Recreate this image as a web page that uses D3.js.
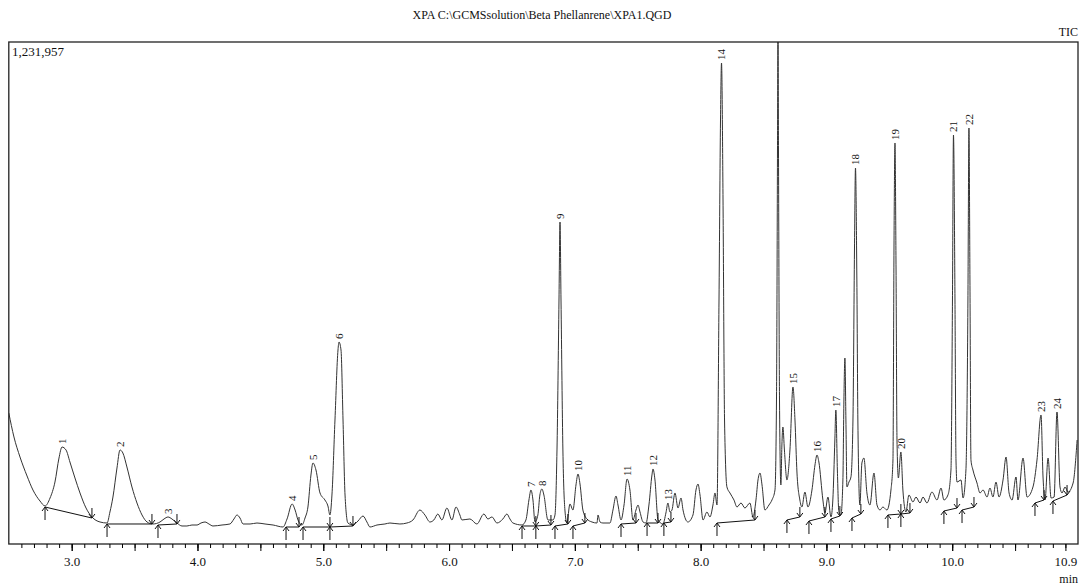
<!DOCTYPE html>
<head>
  <meta charset="utf-8">
  <script src="https://d3js.org/d3.v7.min.js"></script>
  <style>
    body { margin: 0; background: #fff; }
    text { font-family: "Liberation Serif", "DejaVu Serif", serif; fill: #111; }
  </style>
</head>
<body>

<div id="my_dataviz"></div>

<script>

  // TIC trace: [retention time (min), counts]
  var ticTrace = [
    [2.500, 321500], [2.541, 262600], [2.589, 213500], [2.645, 166900], [2.692, 132500],
    [2.748, 105500], [2.788, 93300], [2.828, 112900], [2.867, 152100], [2.899, 211000],
    [2.923, 238000], [2.955, 230700], [2.986, 201200], [3.026, 162000], [3.066, 125200],
    [3.114, 88300], [3.161, 66300], [3.225, 54000], [3.281, 51500], [3.304, 78500],
    [3.328, 115300], [3.360, 186500], [3.384, 230700], [3.407, 223300], [3.439, 189000],
    [3.479, 139900], [3.519, 100600], [3.559, 71200], [3.599, 54000], [3.646, 49100],
    [3.702, 54000], [3.734, 61400], [3.766, 66300], [3.797, 61400], [3.837, 51500],
    [3.877, 44200], [3.916, 44200], [3.956, 46600], [3.996, 46600], [4.028, 51500],
    [4.060, 54000], [4.091, 49100], [4.123, 44200], [4.195, 46600], [4.258, 49100],
    [4.290, 61400], [4.314, 71200], [4.338, 63800], [4.362, 49100], [4.418, 49100],
    [4.473, 51500], [4.537, 49100], [4.601, 46600], [4.680, 41700], [4.712, 61400],
    [4.752, 98200], [4.776, 83400], [4.799, 58900], [4.831, 46600], [4.855, 63800],
    [4.878, 90800], [4.902, 169300], [4.918, 198800], [4.942, 181600], [4.974, 125200],
    [5.013, 108000], [5.037, 93300], [5.053, 71200], [5.069, 120200], [5.093, 304300],
    [5.117, 476100], [5.125, 495700], [5.141, 476100], [5.157, 304300], [5.173, 120200],
    [5.196, 51500], [5.236, 46600], [5.276, 56400], [5.316, 68700], [5.347, 54000],
    [5.371, 41700], [5.427, 46600], [5.490, 49100], [5.530, 51500], [5.609, 49100],
    [5.665, 51500], [5.713, 58900], [5.768, 83400], [5.808, 71200], [5.848, 54000],
    [5.879, 58900], [5.911, 73600], [5.943, 58900], [5.983, 88300], [6.023, 58900],
    [6.055, 90800], [6.086, 71200], [6.102, 58900], [6.166, 61400], [6.221, 49100],
    [6.277, 73600], [6.309, 61400], [6.341, 66300], [6.381, 51500], [6.428, 61400],
    [6.460, 73600], [6.484, 61400], [6.508, 51500], [6.580, 46600], [6.611, 58900],
    [6.635, 108000], [6.651, 132500], [6.667, 108000], [6.683, 54000], [6.706, 71200],
    [6.722, 120200], [6.738, 135000], [6.754, 120200], [6.786, 58900], [6.826, 58900],
    [6.842, 71200], [6.858, 230700], [6.874, 598800], [6.882, 790200], [6.890, 598800],
    [6.905, 230700], [6.921, 83400], [6.937, 51500], [6.961, 98200], [6.985, 83400],
    [7.009, 144800], [7.025, 171800], [7.041, 147200], [7.064, 83400], [7.096, 61400],
    [7.136, 54000], [7.176, 51500], [7.184, 71200], [7.200, 54000], [7.223, 51500],
    [7.279, 51500], [7.303, 83400], [7.327, 117800], [7.343, 95700], [7.367, 58900],
    [7.391, 95700], [7.415, 159500], [7.438, 132500], [7.462, 58900], [7.486, 83400],
    [7.502, 95700], [7.518, 78500], [7.542, 54000], [7.566, 51500], [7.589, 95700],
    [7.613, 169300], [7.621, 184100], [7.637, 157100], [7.661, 58900], [7.700, 49100],
    [7.724, 76100], [7.740, 100600], [7.756, 78500], [7.772, 83400], [7.796, 125200],
    [7.820, 88300], [7.844, 112900], [7.860, 83400], [7.899, 54000], [7.939, 71200],
    [7.963, 132500], [7.979, 147200], [7.995, 120200], [8.019, 58900], [8.050, 78500],
    [8.074, 66300], [8.098, 95700], [8.114, 125200], [8.130, 95700], [8.146, 598800],
    [8.158, 1040500], [8.166, 1180400], [8.178, 844200], [8.190, 304300], [8.209, 139900],
    [8.233, 125200], [8.265, 108000], [8.289, 90800], [8.321, 100600], [8.352, 88300],
    [8.392, 100600], [8.416, 66300], [8.440, 108000], [8.456, 157100], [8.472, 174200],
    [8.488, 144800], [8.511, 83400], [8.543, 95700], [8.567, 108000], [8.591, 132500],
    [8.603, 353400], [8.611, 966900], [8.615, 1320000], [8.619, 966900], [8.627, 353400],
    [8.638, 144800], [8.646, 242900], [8.654, 287100], [8.666, 230700], [8.686, 157100],
    [8.710, 230700], [8.734, 385300], [8.750, 304300], [8.766, 174200], [8.789, 108000],
    [8.805, 90800], [8.829, 127600], [8.853, 90800], [8.885, 132500], [8.909, 193900],
    [8.925, 218400], [8.940, 201200], [8.972, 108000], [8.988, 76100], [9.012, 115300],
    [9.036, 66300], [9.051, 108000], [9.067, 255200], [9.075, 328800], [9.087, 181600],
    [9.099, 78500], [9.115, 71200], [9.131, 157100], [9.139, 353400], [9.147, 456400],
    [9.155, 304300], [9.163, 139900], [9.179, 152100], [9.195, 164400], [9.211, 304300],
    [9.223, 721500], [9.231, 922700], [9.242, 647900], [9.250, 304300], [9.266, 95700],
    [9.282, 198800], [9.298, 211000], [9.322, 125200], [9.346, 95700], [9.378, 174200],
    [9.402, 95700], [9.426, 83400], [9.449, 90800], [9.481, 83400], [9.513, 132500],
    [9.529, 206100], [9.537, 721500], [9.545, 984100], [9.553, 697000], [9.561, 255200],
    [9.572, 162000], [9.592, 225800], [9.608, 132500], [9.632, 78500], [9.656, 120200],
    [9.688, 103100], [9.712, 115300], [9.744, 100600], [9.768, 115300], [9.799, 100600],
    [9.839, 127600], [9.879, 108000], [9.911, 137400], [9.934, 108000], [9.966, 120200],
    [9.990, 181600], [10.002, 598800], [10.010, 1003700], [10.022, 598800], [10.030, 206100],
    [10.038, 152100], [10.070, 157100], [10.086, 112900], [10.109, 181600], [10.125, 598800],
    [10.133, 1020900], [10.141, 647900], [10.149, 206100], [10.165, 181600], [10.197, 149700],
    [10.221, 125200], [10.245, 132500], [10.277, 115300], [10.300, 137400], [10.324, 115300],
    [10.348, 152100], [10.372, 115300], [10.404, 157100], [10.428, 213500], [10.452, 125200],
    [10.476, 108000], [10.507, 164400], [10.523, 108000], [10.563, 211000], [10.595, 115300],
    [10.642, 139900], [10.674, 206100], [10.706, 316600], [10.722, 164400], [10.738, 108000],
    [10.762, 211000], [10.786, 112900], [10.810, 115300], [10.833, 323900], [10.857, 139900],
    [10.873, 125200], [10.897, 139900], [10.921, 127600], [10.961, 149700], [10.993, 255200]
  ];

  // numbered peaks: number, apex time, apex counts
  var peakNo  = [1, 2, 3, 4, 5, 6, 7, 8, 9, 10, 11, 12, 13, 14, 15, 16, 17, 18, 19, 20, 21, 22, 23, 24];
  var peakRt  = [2.923, 3.384, 3.766, 4.752, 4.918, 5.125, 6.651, 6.738, 6.882, 7.025, 7.415, 7.621,
                 7.740, 8.166, 8.734, 8.925, 9.075, 9.231, 9.545, 9.592, 10.010, 10.133, 10.706, 10.833];
  var peakTop = [238000, 230700, 66300, 98200, 198800, 495700, 132500, 135000, 790200, 171800, 159500, 184100,
                 100600, 1180400, 385300, 218400, 328800, 922700, 984100, 225800, 1003700, 1020900, 316600, 323900];

  // integration baselines: start [time, counts] and end [time, counts]
  var intStart = [[2.788, 90800], [3.281, 49100], [3.686, 46600], [4.704, 41700], [4.839, 41700], [5.053, 41700],
                  [6.580, 44200], [6.690, 44200], [6.842, 44200], [6.985, 44200], [7.367, 49100], [7.574, 51500],
                  [7.708, 51500], [8.130, 51500], [8.686, 58900], [8.861, 56400], [9.036, 61400], [9.203, 63800],
                  [9.489, 71200], [9.592, 73600], [9.934, 81000], [10.078, 83400], [10.658, 100600], [10.801, 105500]];
  var intEnd   = [[3.161, 63800], [3.638, 49100], [3.837, 49100], [4.807, 41700], [5.053, 41700], [5.236, 44200],
                  [6.690, 44200], [6.810, 46600], [6.945, 49100], [7.080, 51500], [7.486, 51500], [7.661, 51500],
                  [7.764, 54000], [8.432, 58900], [8.789, 66300], [8.988, 66300], [9.107, 68700], [9.274, 73600],
                  [9.592, 73600], [9.664, 76100], [10.038, 88300], [10.173, 90800], [10.730, 108000], [10.913, 120200]];

  var xLabels = [3.0, 4.0, 5.0, 6.0, 7.0, 8.0, 9.0, 10.0, 10.9];
  var yMax = 1231957;

  var W = 1084, H = 588;
  var plot = {left: 8.8, right: 1078, top: 42, bottom: 544};

  var svg = d3.select("#my_dataviz")
    .append("svg")
      .attr("width", W)
      .attr("height", H);

  var x = d3.scaleLinear()
    .domain([2.5, 11.0])
    .range([plot.left, plot.right]);

  var y = d3.scaleLinear()
    .domain([0, yMax])
    .range([plot.bottom, plot.top]);

  // clip for the over-range peak
  svg.append("clipPath")
      .attr("id", "clip")
    .append("rect")
      .attr("x", plot.left)
      .attr("y", plot.top)
      .attr("width", plot.right - plot.left)
      .attr("height", plot.bottom - plot.top);

  // title + corner texts
  svg.append("text")
    .attr("x", W / 2)
    .attr("y", 19)
    .attr("text-anchor", "middle")
    .style("font-size", "12px")
    .text("XPA C:\\GCMSsolution\\Beta Phellanrene\\XPA1.QGD");

  svg.append("text")
    .attr("x", plot.right)
    .attr("y", 36)
    .attr("text-anchor", "end")
    .style("font-size", "12px")
    .text("TIC");

  svg.append("text")
    .attr("x", 12)
    .attr("y", 56)
    .style("font-size", "13px")
    .text(d3.format(",")(yMax));

  // trace
  var line = d3.line()
    .x(function(d) { return x(d[0]); })
    .y(function(d) { return y(d[1]); })
    .curve(d3.curveMonotoneX);

  svg.append("path")
    .datum(ticTrace)
    .attr("clip-path", "url(#clip)")
    .attr("fill", "none")
    .attr("stroke", "#333")
    .attr("stroke-width", 1)
    .attr("stroke-linejoin", "round")
    .attr("d", line);

  // integration baselines with start / end arrows
  var marks = svg.append("g")
    .attr("fill", "none")
    .attr("stroke", "#111")
    .attr("stroke-width", 1);

  intStart.forEach(function(s, i) {
    var e = intEnd[i];
    var xs = x(s[0]), ys = y(s[1]), xe = x(e[0]), ye = y(e[1]);
    marks.append("line")
      .attr("x1", xs).attr("y1", ys)
      .attr("x2", xe).attr("y2", ye);
    marks.append("path")
      .attr("d", "M" + xs + "," + (ys + 13) + "V" + ys +
                 "M" + (xs - 3) + "," + (ys + 4) + "L" + xs + "," + ys + "L" + (xs + 3) + "," + (ys + 4));
    marks.append("path")
      .attr("d", "M" + xe + "," + (ye - 10) + "V" + ye +
                 "M" + (xe - 3) + "," + (ye - 4) + "L" + xe + "," + ye + "L" + (xe + 3) + "," + (ye - 4));
  });

  // peak numbers
  svg.selectAll(".plabel")
    .data(peakNo)
    .enter()
    .append("text")
      .attr("class", "plabel")
      .attr("transform", function(d, i) {
        return "translate(" + x(peakRt[i]) + "," + (y(peakTop[i]) - 3) + ") rotate(-90)";
      })
      .attr("dy", "0.35em")
      .style("font-size", "11px")
      .text(function(d) { return d; });

  // frame
  svg.append("rect")
    .attr("x", plot.left)
    .attr("y", plot.top)
    .attr("width", plot.right - plot.left)
    .attr("height", plot.bottom - plot.top)
    .attr("fill", "none")
    .attr("stroke", "#222")
    .attr("stroke-width", 1.3);

  // BUILD AXIS
  var minor = d3.range(26, 110).map(function(d) { return d / 10; });
  svg.append("g")
    .attr("transform", "translate(0," + plot.bottom + ")")
    .call(d3.axisBottom(x).tickValues(minor).tickSize(4).tickFormat(""))
    .call(function(g) { g.select(".domain").remove(); });

  var half = minor.filter(function(d) { return Math.round(d * 10) % 5 === 0; });
  svg.append("g")
    .attr("transform", "translate(0," + plot.bottom + ")")
    .call(d3.axisBottom(x).tickValues(half).tickSize(7).tickFormat(""))
    .call(function(g) { g.select(".domain").remove(); });

  svg.append("g")
    .attr("transform", "translate(0," + plot.bottom + ")")
    .call(d3.axisBottom(x).tickValues(xLabels).tickSize(7).tickPadding(6).tickFormat(d3.format(".1f")))
    .call(function(g) { g.select(".domain").remove(); })
    .selectAll("text")
      .style("font-size", "13px")
      .style("font-family", "Liberation Serif");

  svg.append("text")
    .attr("x", plot.right)
    .attr("y", 583)
    .attr("text-anchor", "end")
    .style("font-size", "12px")
    .text("min");

</script>

</body>
